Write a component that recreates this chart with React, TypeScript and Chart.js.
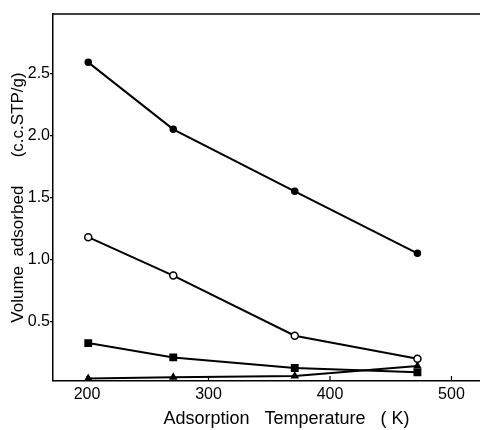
import React, { useEffect, useRef } from "react";
import { Chart, registerables } from "chart.js";

Chart.register(...registerables);

const temperatures = [201, 271, 371, 472];
const seriesFilledCircle = [2.59, 2.05, 1.55, 1.05];
const seriesOpenCircle = [1.18, 0.87, 0.385, 0.2];
const seriesSquare = [0.326, 0.21, 0.125, 0.09];
const seriesTriangle = [0.04, 0.05, 0.06, 0.14];
const xTicks = [200, 300, 400, 500];
const yTicks = [0.5, 1.0, 1.5, 2.0, 2.5];
const xTitle = "Adsorption   Temperature   ( K)";
const yTitle = "Volume  adsorbed      (c.c.STP/g)";

const FONT = "'Liberation Sans', Arial, sans-serif";

const framePlugin = {
  id: "frame",
  afterDraw(chart: any) {
    const { ctx, chartArea } = chart;
    const xs = chart.scales.x;
    ctx.save();
    ctx.strokeStyle = "#000";
    ctx.lineWidth = 1.5;
    // top border
    ctx.beginPath();
    ctx.moveTo(chartArea.left, chartArea.top);
    ctx.lineTo(chartArea.right, chartArea.top);
    ctx.stroke();
    // inward x ticks
    ctx.lineWidth = 1.2;
    for (const t of xTicks) {
      const px = xs.getPixelForValue(t);
      ctx.beginPath();
      ctx.moveTo(px, chartArea.bottom);
      ctx.lineTo(px, chartArea.bottom - 5);
      ctx.stroke();
    }
    // x title
    ctx.fillStyle = "#000";
    ctx.font = `18px ${FONT}`;
    ctx.textAlign = "center";
    ctx.textBaseline = "alphabetic";
    const cx = (chartArea.left + chartArea.right) / 2 + 20;
    ctx.fillText(xTitle, cx, chartArea.bottom + 43);
    ctx.restore();
  },
};

export default function App() {
  const ref = useRef<HTMLCanvasElement>(null);
  useEffect(() => {
    if (!ref.current) return;
    const mk = (data: number[], style: string, radius: number, fill: string) => ({
      data: temperatures.map((t, i) => ({ x: t, y: data[i] })),
      borderColor: "#000",
      borderWidth: 2,
      pointStyle: style,
      pointRadius: radius,
      pointBackgroundColor: fill,
      pointBorderColor: "#000",
      pointBorderWidth: 1.5,
      showLine: true,
      fill: false,
    });
    const chart = new Chart(ref.current, {
      type: "scatter",
      data: {
        datasets: [
          mk(seriesFilledCircle, "circle", 3, "#000"),
          mk(seriesOpenCircle, "circle", 3.5, "#fff"),
          mk(seriesSquare, "rect", 4.5, "#000"),
          mk(seriesTriangle, "triangle", 3.5, "#000"),
        ] as any,
      },
      options: {
        animation: false,
        responsive: true,
        maintainAspectRatio: false,
        layout: { autoPadding: false, padding: { top: 14, right: 0, left: 0, bottom: 0 } },
        plugins: { legend: { display: false }, tooltip: { enabled: false } },
        scales: {
          x: {
            type: "linear",
            min: 172,
            max: 523.5,
            afterBuildTicks: (s: any) => {
              s.ticks = xTicks.map((v) => ({ value: v }));
            },
            afterFit: (s: any) => {
              s.height = 49;
              s.paddingLeft = 0;
              s.paddingRight = 0;
            },
            grid: { display: false, drawTicks: false },
            border: { display: true, color: "#000", width: 1.5 },
            ticks: {
              color: "#000",
              font: { family: FONT, size: 16 },
              padding: 4,
              maxRotation: 0,
              callback: (v: any) => String(v),
            },
          },
          y: {
            type: "linear",
            min: 0.02,
            max: 2.98,
            afterBuildTicks: (s: any) => {
              s.ticks = yTicks.map((v) => ({ value: v }));
            },
            afterFit: (s: any) => {
              s.width = 53;
              s.paddingTop = 0;
              s.paddingBottom = 0;
            },
            grid: {
              display: true,
              drawOnChartArea: false,
              drawTicks: true,
              tickLength: 3,
              color: "#000",
              lineWidth: 1.2,
            },
            border: { display: true, color: "#000", width: 1.5 },
            ticks: {
              color: "#000",
              font: { family: FONT, size: 16 },
              padding: 0,
              callback: (v: any) => Number(v).toFixed(1),
            },
            title: {
              display: true,
              text: yTitle,
              color: "#000",
              font: { family: FONT, size: 17 },
              padding: { top: 8, bottom: 0 },
            },
          },
        },
      },
      plugins: [framePlugin],
    });
    return () => chart.destroy();
  }, []);
  return (
    <div style={{ position: "fixed", left: 0, top: 0, width: 480, height: 430 }}>
      <canvas ref={ref} />
    </div>
  );
}
